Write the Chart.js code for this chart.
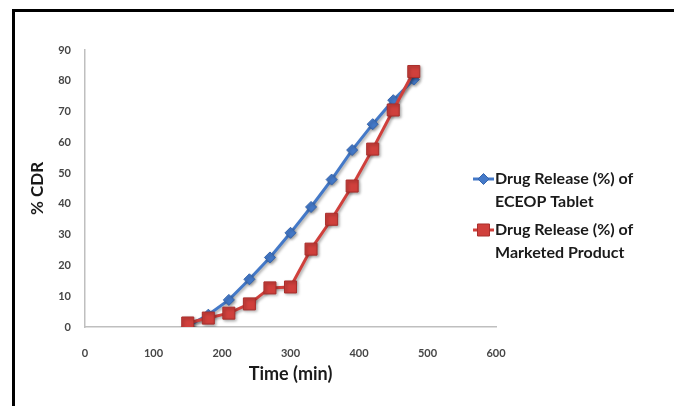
<!DOCTYPE html>
<html>
<head>
<meta charset="utf-8">
<script src="https://cdn.jsdelivr.net/npm/chart.js@4.4.1/dist/chart.umd.min.js"></script>
<style>
  html, body { margin: 0; padding: 0; background: #ffffff; }
  #wrap { position: relative; width: 674px; height: 406px; overflow: hidden; }
  #frame { position: absolute; left: 12px; top: 9px; right: -10px; bottom: -10px;
           border-left: 3px solid #000; border-top: 3px solid #000; pointer-events: none; }
  canvas { position: absolute; left: 0; top: 0; }
</style>
</head>
<body>
<div id="wrap">
  <canvas id="chart" width="674" height="406"></canvas>
  <div id="frame"></div>
</div>
<script>
// Sampling times (min)
const timePoints = [150, 180, 210, 240, 270, 300, 330, 360, 390, 420, 450, 480];
// Cumulative drug release (%)
const eceopRelease = [0.3, 4, 8.8, 15.5, 22.6, 30.6, 39, 47.9, 57.5, 65.9, 73.7, 80.4];
const marketedRelease = [1.3, 2.9, 4.5, 7.5, 12.7, 13, 25.3, 35, 45.8, 57.8, 70.5, 83];
// Legend entries (two lines each)
const legendLabels = [
  ["Drug Release (%) of", "ECEOP Tablet"],
  ["Drug Release (%) of", "Marketed Product"]
];
const xTickValues = [0, 100, 200, 300, 400, 500, 600];
const yTickValues = [0, 10, 20, 30, 40, 50, 60, 70, 80, 90];

const BLUE = '#4479C8';
const RED = '#D0403C';
const FONT = 'Lato, "Open Sans", "DejaVu Sans", sans-serif';

const toXY = (vals) => timePoints.map((t, i) => ({ x: t, y: vals[i] }));

// Soft drop shadow under the series, as in office-style charts
const shadowPlugin = {
  id: 'seriesShadow',
  beforeDatasetsDraw(chart) {
    const ctx = chart.ctx;
    ctx.save();
    ctx.shadowColor = 'rgba(0,0,0,0.35)';
    ctx.shadowBlur = 3;
    ctx.shadowOffsetX = 1.5;
    ctx.shadowOffsetY = 1.5;
  },
  afterDatasetsDraw(chart) {
    chart.ctx.restore();
  }
};

// Two-line legend on the right, using each dataset's own styling
const sideLegend = {
  id: 'sideLegend',
  afterDraw(chart) {
    const ctx = chart.ctx;
    const area = chart.chartArea;
    const x0 = area.right - 23;
    const tops = [179, 230];
    ctx.save();
    chart.data.datasets.forEach((ds, i) => {
      const y = tops[i];
      ctx.strokeStyle = ds.borderColor;
      ctx.lineWidth = 3;
      ctx.beginPath();
      ctx.moveTo(x0, y);
      ctx.lineTo(x0 + 21, y);
      ctx.stroke();
      ctx.fillStyle = ds.pointBackgroundColor;
      ctx.strokeStyle = ds.pointBorderColor;
      ctx.lineWidth = 1;
      Chart.helpers.drawPoint(ctx, {
        pointStyle: ds.pointStyle,
        radius: ds.pointRadius,
        borderWidth: 1
      }, x0 + 10.5, y);
      ctx.fillStyle = '#1a1a1a';
      ctx.font = 'bold 16px ' + FONT;
      ctx.textBaseline = 'middle';
      ctx.textAlign = 'left';
      legendLabels[i].forEach((line, j) => {
        ctx.fillText(line, x0 + 22, y + j * 23);
      });
    });
    ctx.restore();
  }
};

new Chart(document.getElementById('chart'), {
  type: 'line',
  data: {
    datasets: [
      {
        label: legendLabels[0].join(' '),
        data: toXY(eceopRelease),
        borderColor: BLUE,
        backgroundColor: BLUE,
        pointBackgroundColor: BLUE,
        pointBorderColor: '#3565AE',
        pointStyle: 'rectRot',
        pointRadius: 5.5,
        pointBorderWidth: 1,
        borderWidth: 3,
        tension: 0,
        order: 1
      },
      {
        label: legendLabels[1].join(' '),
        data: toXY(marketedRelease),
        borderColor: RED,
        backgroundColor: RED,
        pointBackgroundColor: RED,
        pointBorderColor: '#A82E2B',
        pointStyle: 'rect',
        pointRadius: 8.5,
        pointBorderWidth: 1,
        borderWidth: 3,
        tension: 0,
        order: 0
      }
    ]
  },
  options: {
    responsive: false,
    animation: false,
    layout: { padding: { left: 20, right: 178, top: 50, bottom: 20 } },
    plugins: {
      legend: { display: false },
      tooltip: { enabled: false }
    },
    scales: {
      x: {
        type: 'linear',
        min: 0,
        max: 600,
        afterBuildTicks(scale) { scale.ticks = xTickValues.map(v => ({ value: v })); },
        afterFit(scale) { scale.height = 59; },
        grid: { display: false },
        border: { display: true, color: '#BFBFBF', width: 1.5 },
        ticks: {
          padding: 12,
          color: '#454545',
          font: { family: FONT, size: 11, weight: 'bold' },
          maxRotation: 0
        },
        title: {
          display: true,
          text: 'Time (min)',
          color: '#1a1a1a',
          font: { family: FONT, size: 18, weight: 'bold' },
          padding: { top: 0, bottom: 1 }
        }
      },
      y: {
        type: 'linear',
        min: 0,
        max: 90,
        afterBuildTicks(scale) { scale.ticks = yTickValues.map(v => ({ value: v })); },
        afterFit(scale) { scale.width = 65; },
        grid: { display: false },
        border: { display: true, color: '#BFBFBF', width: 1.5 },
        ticks: {
          padding: 6,
          color: '#454545',
          font: { family: FONT, size: 11, weight: 'bold' }
        },
        title: {
          display: true,
          text: '% CDR',
          color: '#1a1a1a',
          font: { family: FONT, size: 17, weight: 'bold' },
          padding: { top: 7, bottom: 0 }
        }
      }
    }
  },
  plugins: [shadowPlugin, sideLegend]
});
</script>
</body>
</html>
